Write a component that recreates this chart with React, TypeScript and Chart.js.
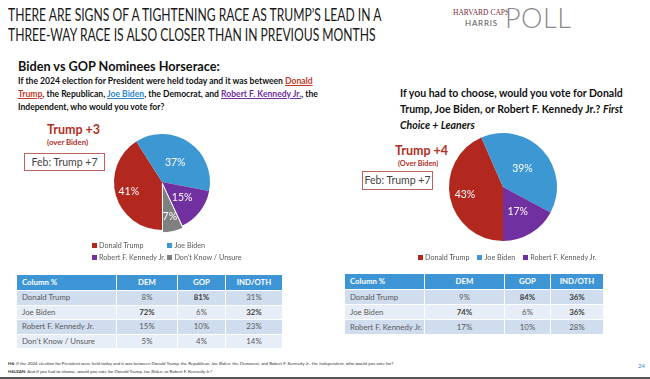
import React, { useEffect, useRef } from 'react';
import { Chart, registerables } from 'chart.js';
Chart.register(...registerables);

// ---------- data ----------
const leftCategories = ['Donald Trump', 'Joe Biden', 'Robert F. Kennedy Jr.', 'Don’t Know / Unsure'];
const leftValues = [41, 37, 15, 7];
const rightCategories = ['Donald Trump', 'Joe Biden', 'Robert F. Kennedy Jr.'];
const rightValues = [43, 39, 17];
const sliceColors = ['#B2271E', '#3D97D3', '#7030A0', '#808080'];
const leftOffsets = [0, 0, 0, 7];
const labelRadiusFactors = [0.72, 0.49, 0.53, 0.6];

const tableColumns = ['Column %', 'DEM', 'GOP', 'IND/OTH'];
const leftTableRows = ['Donald Trump', 'Joe Biden', 'Robert F. Kennedy Jr.', 'Don’t Know / Unsure'];
const leftDem = [8, 72, 15, 5];
const leftGop = [81, 6, 10, 4];
const leftInd = [31, 32, 23, 14];
const leftBold = [[false, true, false], [true, false, true], [false, false, false], [false, false, false]];
const rightTableRows = ['Donald Trump', 'Joe Biden', 'Robert F. Kennedy Jr.'];
const rightDem = [9, 74, 17];
const rightGop = [84, 6, 10];
const rightInd = [36, 36, 28];
const rightBold = [[false, true, true], [true, false, true], [false, false, false]];

const FONT = 'Lato, "Open Sans", sans-serif';
const RED = '#B0301F';

function makeLabelPlugin(factors: number[]) {
  return {
    id: 'sliceLabels',
    afterDatasetsDraw(chart: any) {
      const ctx = chart.ctx;
      const meta = chart.getDatasetMeta(0);
      const ds = chart.data.datasets[0];
      meta.data.forEach((arc: any, i: number) => {
        const p = arc.getProps(['x', 'y', 'startAngle', 'endAngle', 'outerRadius'], true);
        const mid = (p.startAngle + p.endAngle) / 2;
        const off = Array.isArray(ds.offset) ? ds.offset[i] || 0 : 0;
        const r = p.outerRadius * factors[i] + off;
        ctx.save();
        ctx.fillStyle = '#ffffff';
        ctx.font = '10.5px ' + FONT;
        ctx.textAlign = 'center';
        ctx.textBaseline = 'middle';
        ctx.fillText(ds.data[i] + '%', p.x + Math.cos(mid) * r, p.y + Math.sin(mid) * r);
        ctx.restore();
      });
    },
  };
}

function PieChart(props: { values: number[]; labels: string[]; offsets: number[]; radius: number; cx: number; cy: number; size: number }) {
  const ref = useRef<HTMLCanvasElement>(null);
  useEffect(() => {
    const chart = new Chart(ref.current as HTMLCanvasElement, {
      type: 'pie',
      data: {
        labels: props.labels,
        datasets: [{
          data: props.values,
          backgroundColor: sliceColors.slice(0, props.values.length),
          borderWidth: props.offsets.map((o) => (o ? 1 : 0)),
          borderColor: '#ffffff',
          offset: props.offsets,
        }],
      },
      options: {
        responsive: false,
        animation: false,
        radius: props.radius,
        rotation: 180,
        layout: { padding: 0 },
        plugins: { legend: { display: false }, tooltip: { enabled: false } },
      } as any,
      plugins: [makeLabelPlugin(labelRadiusFactors)],
    });
    return () => chart.destroy();
  }, []);
  return (
    <canvas
      ref={ref}
      width={props.size}
      height={props.size}
      style={{ position: 'absolute', left: props.cx - props.size / 2, top: props.cy - props.size / 2, width: props.size, height: props.size }}
    />
  );
}

const abs = (s: React.CSSProperties): React.CSSProperties => ({ position: 'absolute', whiteSpace: 'nowrap', fontFamily: FONT, ...s });

function Legend(props: { labels: string[]; style: React.CSSProperties }) {
  return (
    <div style={abs({ display: 'grid', fontSize: 7.2, color: '#595959', alignItems: 'center', ...props.style })}>
      {props.labels.map((l, i) => (
        <div key={l} style={{ display: 'flex', alignItems: 'center' }}>
          <span style={{ width: 5, height: 5, background: sliceColors[i], marginRight: 2, display: 'inline-block' }} />
          <span>{l}</span>
        </div>
      ))}
    </div>
  );
}

function Table(props: { rows: string[]; dem: number[]; gop: number[]; ind: number[]; bold: boolean[][]; left: number; top: number; cols: number[]; headH: number; rowH: number }) {
  const cell = (bg: string, align: 'left' | 'center', color: string, bold: boolean, h: number): React.CSSProperties => ({
    background: bg, textAlign: align, color, fontWeight: bold ? 700 : 400, height: h, lineHeight: h + 'px',
    paddingLeft: align === 'left' ? 5 : 0, boxSizing: 'border-box', overflow: 'hidden',
  });
  return (
    <div style={abs({ left: props.left, top: props.top, display: 'grid', gridTemplateColumns: props.cols.map((c) => c + 'px').join(' '), gap: 1, fontSize: 7.8 })}>
      {tableColumns.map((c, j) => (
        <div key={c} style={cell('#3E95D5', j === 0 ? 'left' : 'center', '#ffffff', true, props.headH)}>{c}</div>
      ))}
      {props.rows.map((r, i) => {
        const bg = i % 2 === 0 ? '#CFDDEE' : '#E8EEF7';
        const vals = [props.dem[i], props.gop[i], props.ind[i]];
        return (
          <React.Fragment key={r}>
            <div style={cell(bg, 'left', '#595959', false, props.rowH)}>{r}</div>
            {vals.map((v, j) => (
              <div key={j} style={cell(bg, 'center', props.bold[i][j] ? '#404040' : '#595959', props.bold[i][j], props.rowH)}>{v}%</div>
            ))}
          </React.Fragment>
        );
      })}
    </div>
  );
}

export default function App() {
  const u = (color: string, text: string) => <span style={{ color, textDecoration: 'underline' }}>{text}</span>;
  return (
    <div style={{ position: 'absolute', left: 0, top: 0, width: 650, height: 379, background: '#ffffff', overflow: 'hidden', fontFamily: FONT }}>
      {/* Title */}
      <div style={abs({ left: 8, top: 5, fontSize: 16.5, lineHeight: '20px', color: '#1a1a1a', transform: 'scaleX(0.735)', transformOrigin: 'left top' })}>
        THERE ARE SIGNS OF A TIGHTENING RACE AS TRUMP’S LEAD IN A<br />
        THREE-WAY RACE IS ALSO CLOSER THAN IN PREVIOUS MONTHS
      </div>
      {/* Logo */}
      <div style={abs({ left: 453, top: 8, fontSize: 7.5, fontFamily: '"Liberation Serif", serif', color: '#7A2B3C', lineHeight: '9px' })}>HARVARD CAPS</div>
      <div style={abs({ left: 465, top: 18, fontSize: 8, color: '#555', letterSpacing: 0.8, lineHeight: '10px' })}>HARRIS</div>
      <div style={abs({ left: 505, top: 3, fontSize: 27, fontWeight: 300, color: '#8a8a8a', lineHeight: '30px', letterSpacing: 0.5 })}>POLL</div>

      {/* Left question */}
      <div style={abs({ left: 18, top: 58, fontSize: 12.7, fontWeight: 700, color: '#111', lineHeight: '16px' })}>Biden vs GOP Nominees Horserace:</div>
      <div style={abs({ left: 18, top: 74, fontSize: 9.8, fontWeight: 700, color: '#111', lineHeight: '13px', transform: 'scaleX(0.875)', transformOrigin: 'left top' })}>
        If the 2024 election for President were held today and it was between {u('#C0392B', 'Donald')}<br />
        {u('#C0392B', 'Trump')}, the Republican, {u('#2E86C8', 'Joe Biden')}, the Democrat, and {u('#7030A0', 'Robert F. Kennedy Jr.')}, the<br />
        Independent, who would you vote for?
      </div>

      {/* Right question */}
      <div style={abs({ left: 400, top: 85, fontSize: 10.5, fontWeight: 700, color: '#111', lineHeight: '16px' })}>
        If you had to choose, would you vote for Donald<br />
        Trump, Joe Biden, or Robert F. Kennedy Jr.? <i>First</i><br />
        <i>Choice + Leaners</i>
      </div>

      {/* Left annotations */}
      <div style={abs({ left: 47, top: 122, fontSize: 12.5, fontWeight: 700, color: RED, lineHeight: '16px' })}>Trump +3</div>
      <div style={abs({ left: 47, top: 138, fontSize: 7.8, fontWeight: 700, color: RED, lineHeight: '9px' })}>(over Biden)</div>
      <div style={abs({ left: 24, top: 153, width: 81, height: 18, border: '1px solid #C0605A', boxSizing: 'border-box', fontSize: 10.5, color: '#444', lineHeight: '16px', textAlign: 'center' })}>Feb: Trump +7</div>

      {/* Right annotations */}
      <div style={abs({ left: 395, top: 143, fontSize: 12.5, fontWeight: 700, color: RED, lineHeight: '16px' })}>Trump +4</div>
      <div style={abs({ left: 398, top: 159, fontSize: 7.3, fontWeight: 700, color: RED, lineHeight: '9px' })}>(Over Biden)</div>
      <div style={abs({ left: 362, top: 171, width: 71, height: 19, border: '1px solid #C0605A', boxSizing: 'border-box', fontSize: 10.5, color: '#444', lineHeight: '17px', textAlign: 'center' })}>Feb: Trump +7</div>

      {/* Pies */}
      <PieChart values={leftValues} labels={leftCategories} offsets={leftOffsets} radius={48} cx={162} cy={182} size={124} />
      <PieChart values={rightValues} labels={rightCategories} offsets={[0, 0, 0]} radius={54} cx={503} cy={187} size={124} />

      {/* Legends */}
      <Legend labels={leftCategories} style={{ left: 92, top: 241, gridTemplateColumns: 'max-content max-content', columnGap: 2, rowGap: 3 }} />
      <Legend labels={rightCategories} style={{ left: 418, top: 253, gridTemplateColumns: 'max-content max-content max-content', columnGap: 8 }} />

      {/* Tables */}
      <Table rows={leftTableRows} dem={leftDem} gop={leftGop} ind={leftInd} bold={leftBold} left={17} top={275} cols={[99, 60, 47, 56]} headH={15} rowH={13.5} />
      <Table rows={rightTableRows} dem={rightDem} gop={rightGop} ind={rightInd} bold={rightBold} left={345} top={274} cols={[79, 79, 45, 52]} headH={15} rowH={14} />

      {/* Footer */}
      <div style={abs({ left: 8, top: 360, fontSize: 4.4, color: '#333', lineHeight: '8px' })}>
        <b>H6:</b> If the 2024 election for President were held today and it was between Donald Trump, the Republican, Joe Biden, the Democrat, and Robert F. Kennedy Jr., the Independent, who would you vote for?<br />
        <b>H6LEAN</b>: And if you had to choose, would you vote for Donald Trump, Joe Biden, or Robert F. Kennedy Jr.?
      </div>
      <div style={abs({ left: 638, top: 362, fontSize: 6, color: '#2E86C8', lineHeight: '8px' })}>24</div>
      <div style={{ position: 'absolute', left: 0, top: 377, width: 650, height: 2, background: '#555' }} />
    </div>
  );
}
